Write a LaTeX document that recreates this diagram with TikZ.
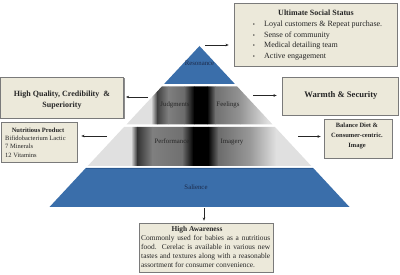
\documentclass[tikz,border=0pt]{standalone}
\usepackage{fontspec}
\setmainfont{Liberation Serif}
\usetikzlibrary{arrows.meta}
\definecolor{pblue}{HTML}{3A6EAA}
\definecolor{pblueline}{HTML}{2A5890}
\definecolor{boxfill}{HTML}{ECE9DA}
\definecolor{boxline}{HTML}{7A7A7A}
\definecolor{navytxt}{HTML}{1C2A4A}
\tikzset{
  infobox/.style={draw=boxline, fill=boxfill, line width=0.6pt, inner sep=0pt},
  shadowbox/.style={fill=black!45},
  arr/.style={draw=black!85, line width=0.5pt, -{Stealth[length=3.2pt,width=2.6pt]}, shorten >=3pt},
  lbl/.style={font=\fontsize{6.8}{8}\selectfont, text=black!85, inner sep=0pt, anchor=base},
  btxt/.style={font=\fontsize{8}{9.5}\selectfont, text=black!85, inner sep=0pt, anchor=base},
  bbold/.style={font=\bfseries\fontsize{8}{11}\selectfont, text=black!85, inner sep=0pt},
  stxt/.style={font=\fontsize{6.5}{8}\selectfont, text=black!85, inner sep=0pt, anchor=base west},
  htxt/.style={font=\fontsize{7.4}{9}\selectfont, text=black!85, inner sep=0pt, anchor=base west},
}
\begin{document}
\begin{tikzpicture}[x=1pt,y=-1pt]
\useasboundingbox (0,0) rectangle (400,275);

% ---- pyramid ----
% band 1 (Resonance)
\fill[pblue] (199.5,46) -- (234.9,84) -- (164.1,84) -- cycle;
% band 2 (Judgments / Feelings)
\begin{scope}
  \clip (161.8,86.5) -- (237.2,86.5) -- (272.6,124.5) -- (126.4,124.5) -- cycle;
  \foreach \xa/\xb/\ca/\cb in {120/151.3/black!12/black!12, 151/157.3/black!12/black!75,
      157/168.3/black!75/black!50, 168/184.3/black!50/black!58, 184/194.3/black!58/black,
      194/207.3/black/black, 207/215.3/black/black!56, 215/240.3/black!56/black!42,
      240/268.3/black!42/black!12, 268/280/black!12/black!12}
    \shade[left color=\ca, right color=\cb] (\xa,86) rectangle (\xb,125);
\end{scope}
% band 3 (Performance / Imagery)
\begin{scope}
  \clip (124.0,127) -- (275.0,127) -- (311.3,166) -- (87.7,166) -- cycle;
  \foreach \xa/\xb/\ca/\cb in {80/131.3/black!12/black!12, 131/137.3/black!12/black!80,
      137/152.3/black!80/black!50, 152/182.3/black!50/black!56, 182/193.3/black!56/black,
      193/208.3/black/black, 208/218.3/black/black!58, 218/250.3/black!58/black!40,
      250/276.3/black!40/black!12, 276/320/black!12/black!12}
    \shade[left color=\ca, right color=\cb] (\xa,126) rectangle (\xb,167);
\end{scope}
% band 4 (Salience)
\fill[pblue] (85.8,168) -- (313.2,168) -- (349.5,207) -- (49.5,207) -- cycle;
\draw[pblueline, line width=0.7pt] (85.8,168) -- (313.2,168);

% pyramid labels
\node[lbl, text=navytxt] (res) at (199.5,65.9) {Resonance};
\node[lbl] (jud) at (175,106.9) {Judgments};
\node[lbl] (fee) at (228,106.9) {Feelings};
\node[lbl] (per) at (172,143.9) {Performance};
\node[lbl] (ima) at (232,143.9) {Imagery};
\node[lbl, text=navytxt] (sal) at (196,189.9) {Salience};

% ---- box shadows ----
\fill[shadowbox] (234.9,3.9) rectangle (397.9,66.9);
\fill[shadowbox] (282.9,77.9) rectangle (398.9,115.9);
\fill[shadowbox] (324.9,119.9) rectangle (392.9,158.9);
\fill[shadowbox] (1.6,77.9) rectangle (124.6,118.9);
\fill[shadowbox] (1.9,122.9) rectangle (77.9,162.9);
\fill[shadowbox] (139.9,223.9) rectangle (273.9,272.9);

% ---- boxes ----
\node[infobox, minimum width=163pt, minimum height=63pt] (uss) at (315.5,34.5) {};
\node[infobox, minimum width=116pt, minimum height=38pt] (wst) at (340,96) {};
\node[infobox, minimum width=68pt, minimum height=39pt] (bal) at (358,138.5) {};
\node[infobox, minimum width=123pt, minimum height=41pt] (hq) at (62.2,97.5) {};
\node[infobox, minimum width=76pt, minimum height=40pt] (nut) at (39,142) {};
\node[infobox, minimum width=134pt, minimum height=49pt] (ha) at (206,247.5) {};

% Ultimate Social Status
\node[btxt, font=\bfseries\fontsize{8}{9.5}\selectfont] (usst) at (316,15.3) {Ultimate Social Status};
\foreach \yy/\tt [count=\i] in {26.8/{Loyal customers \& Repeat purchase.}, 37.3/{Sense of community},
    48.0/{Medical detailing team}, 59.0/{Active engagement}} {
  \node[btxt, font=\fontsize{6}{8}\selectfont] (bul\i) at (254,\yy) {\textbullet};
  \node[btxt, anchor=base west] (ust\i) at (264,\yy) {\tt};
}

% Warmth & Security
\node[btxt, font=\bfseries\fontsize{8.6}{10}\selectfont] (wstt) at (341,97.6) {Warmth \& Security};

% Balance Diet
\node[bbold, font=\bfseries\fontsize{6.5}{9.8}\selectfont, align=center] (balt) at (357,136.2)
  {Balance Diet \&\\Consumer-centric.\\Image};

% High Quality
\node[bbold, align=center] (hqt) at (62,99.7) {High Quality, Credibility \ \&\\Superiority};

% Nutritious Product
\node[stxt, font=\bfseries\fontsize{6.5}{8}\selectfont, anchor=base] (nutt) at (38,132.1) {Nutritious Product};
\node[stxt] (nut1) at (5,140.1) {Bifidobacterium Lactic};
\node[stxt] (nut2) at (5,148.8) {7 Minerals};
\node[stxt] (nut3) at (5,157.1) {12 Vitamins};

% High Awareness
\node[btxt, font=\bfseries\fontsize{7.4}{9}\selectfont] (hat) at (197,231.4) {High Awareness};
\node[htxt] (ha1) at (141,240.4) {\makebox[129pt][s]{Commonly used for babies as a nutritious}};
\node[htxt] (ha2) at (141,249.4) {\makebox[129pt][s]{food. Cerelac is available in various new}};
\node[htxt] (ha3) at (141,258.1) {\makebox[129pt][s]{tastes and textures along with a reasonable}};
\node[htxt] (ha4) at (141,267.2) {assortment for consumer convenience.};

% ---- connectors ----
\coordinate (a1) at (205,45);
\coordinate (a2) at (253,95.5);
\coordinate (a3) at (298,136.5);
\coordinate (a4) at (148,97);
\coordinate (a5) at (107,136);
\coordinate (a6) at (204,208.5);
\draw[arr, shorten >=5pt] (a1) -- (a1 -| uss.west);
\draw[arr, shorten >=5pt] (a2) -- (a2 -| wst.west);
\draw[arr] (a3) -- (a3 -| bal.west);
\draw[arr, shorten >=2pt] (a4) -- (a4 -| hq.east);
\draw[arr, shorten >=4pt] (a5) -- (a5 -| nut.east);
\draw[arr, shorten >=2pt] (a6) -- (a6 |- ha.north);
\end{tikzpicture}
\end{document}
